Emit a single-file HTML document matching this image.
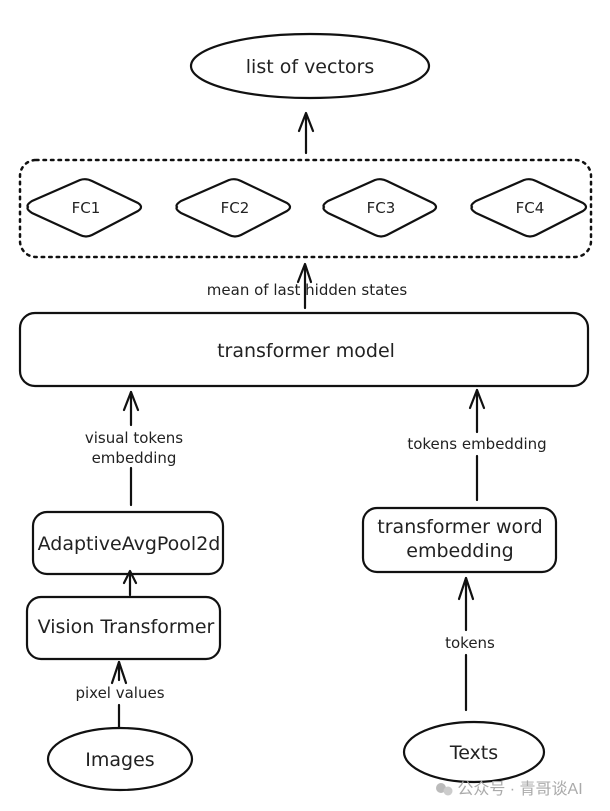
<!DOCTYPE html>
<html><head><meta charset="utf-8"><style>
html,body{margin:0;padding:0;background:#fff;}
svg{display:block;}
text{font-family:"DejaVu Sans","Liberation Sans",sans-serif;fill:#222;text-anchor:middle;}
</style></head><body>
<svg width="610" height="811" viewBox="0 0 610 811" xmlns="http://www.w3.org/2000/svg">
<g fill="none" stroke="#111" stroke-width="2.2" stroke-linecap="round" stroke-linejoin="round">
<ellipse cx="310" cy="66" rx="119" ry="32"/>
<line x1="306" y1="153" x2="306" y2="114"/><polyline points="299,131 306,113 313,131"/>
<rect x="20" y="160" width="571" height="97" rx="16" stroke-dasharray="2.5 5" stroke-width="2.5"/>
<path d="M28,207 Q26,205 32,201 L80,180 Q86,178 92,181 L138,203 Q144,207 138,211 L92,235 Q86,238 80,235 L32,213 Q26,209 28,207 Z"/>
<path d="M177,207 Q175,205 181,201 L229,180 Q235,178 241,181 L287,203 Q293,207 287,211 L241,235 Q235,238 229,235 L181,213 Q175,209 177,207 Z"/>
<path d="M324,207 Q322,205 328,201 L375,180 Q381,178 387,181 L433,203 Q439,207 433,211 L387,235 Q381,238 375,235 L328,213 Q322,209 324,207 Z"/>
<path d="M472,207 Q470,205 476,201 L524,180 Q530,178 536,181 L583,203 Q589,207 583,211 L536,235 Q530,238 524,235 L476,213 Q470,209 472,207 Z"/>
<line x1="305" y1="308" x2="305" y2="265"/><polyline points="298,282 305,264 311,282"/>
<rect x="20" y="313" width="568" height="73" rx="15"/>
<line x1="131" y1="425" x2="131" y2="392"/><line x1="131" y1="468" x2="131" y2="505"/><polyline points="124,410 131,392 138,410"/>
<line x1="477" y1="432" x2="477" y2="390"/><line x1="477" y1="456" x2="477" y2="500"/><polyline points="470,408 477,390 484,408"/>
<rect x="33" y="512" width="190" height="62" rx="14"/>
<line x1="130" y1="595" x2="130" y2="572"/><polyline points="124,583 130,571 136,583"/>
<rect x="27" y="597" width="193" height="62" rx="14"/>
<line x1="119" y1="680" x2="119" y2="662"/><line x1="119" y1="705" x2="119" y2="728"/><polyline points="112,683 119,662 126,683"/>
<ellipse cx="120" cy="759" rx="72" ry="31"/>
<rect x="363" y="508" width="193" height="64" rx="14"/>
<line x1="466" y1="630" x2="466" y2="578"/><line x1="466" y1="655" x2="466" y2="710"/><polyline points="459,599 466,578 473,599"/>
<ellipse cx="474" cy="752" rx="70" ry="30"/>
</g>
<text x="310" y="73" font-size="19">list of vectors</text>
<text x="86" y="213" font-size="15">FC1</text>
<text x="235" y="213" font-size="15">FC2</text>
<text x="381" y="213" font-size="15">FC3</text>
<text x="530" y="213" font-size="15">FC4</text>
<text x="307" y="295" font-size="15">mean of last hidden states</text>
<text x="306" y="357" font-size="19">transformer model</text>
<text x="134" y="443" font-size="15">visual tokens</text>
<text x="134" y="463" font-size="15">embedding</text>
<text x="477" y="449" font-size="15">tokens embedding</text>
<text x="129" y="550" font-size="19">AdaptiveAvgPool2d</text>
<text x="126" y="633" font-size="19">Vision Transformer</text>
<text x="120" y="698" font-size="15">pixel values</text>
<text x="120" y="766" font-size="19">Images</text>
<text x="460" y="533" font-size="19">transformer word</text>
<text x="460" y="557" font-size="19">embedding</text>
<text x="470" y="648" font-size="15">tokens</text>
<text x="474" y="759" font-size="19">Texts</text>
<text x="520" y="794" font-size="16" style="fill:#aaa;font-family:'Liberation Sans','Noto Sans CJK SC',sans-serif;">公众号 · 青哥谈AI</text>
<circle cx="441" cy="788" r="5" fill="#bbb"/><circle cx="448" cy="791" r="4.5" fill="#ccc"/>
</svg>
</body></html>
